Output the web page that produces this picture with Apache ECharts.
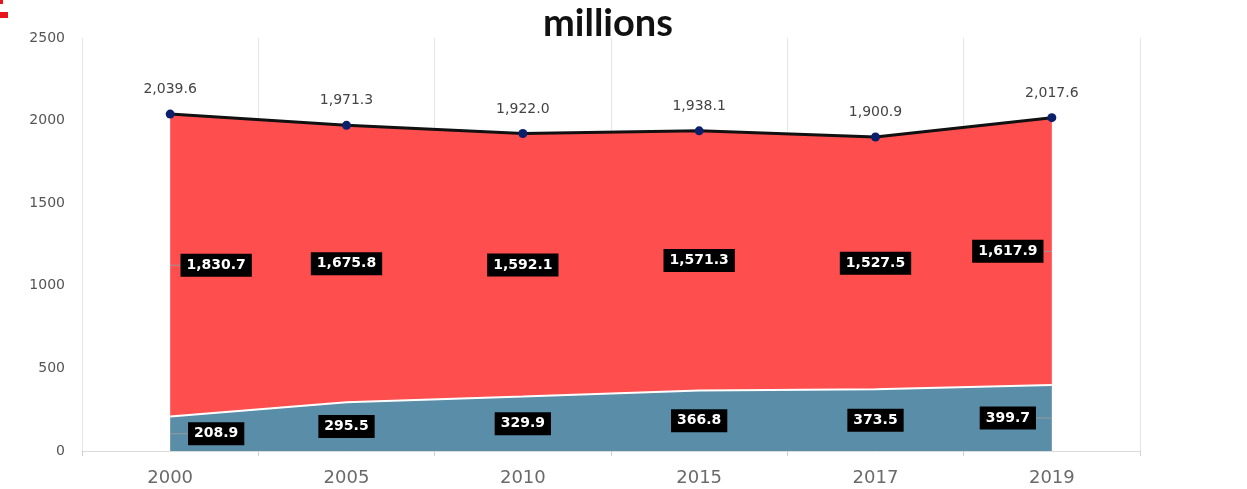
<!DOCTYPE html>
<html>
<head>
<meta charset="utf-8">
<script src="https://cdn.jsdelivr.net/npm/echarts@6/dist/echarts.min.js"></script>
<style>html,body{margin:0;padding:0;background:#fff;}#c{width:1247px;height:489px;}</style>
</head>
<body>
<div id="c"></div>
<script>
const categories = ['2000', '2005', '2010', '2015', '2017', '2019'];
const lowerValues = [208.9, 295.5, 329.9, 366.8, 373.5, 399.7];
const upperValues = [1830.7, 1675.8, 1592.1, 1571.3, 1527.5, 1617.9];
const totalValues = [2039.6, 1971.3, 1922.0, 1938.1, 1900.9, 2017.6];
const yTicks = { min: 0, max: 2500, interval: 500 };
const titleText = 'millions';

function fmt(v) {
  return v.toLocaleString('en-US', { minimumFractionDigits: 1, maximumFractionDigits: 1 });
}

const boxLabel = {
  show: true,
  position: 'inside',
  color: '#fff',
  fontFamily: 'DejaVu Sans',
  fontWeight: 'bold',
  fontSize: 14,
  backgroundColor: '#000',
  padding: [5, 6, 4, 6],
  opacity: 1
};

function edgeLayout(params) {
  if (params.dataIndex === 0) return { dx: 46 };
  if (params.dataIndex === categories.length - 1) return { dx: -44 };
  return {};
}

const chart = echarts.init(document.getElementById('c'), null, { renderer: 'canvas' });
chart.setOption({
  animation: false,
  backgroundColor: '#fff',
  title: {
    text: titleText,
    left: 538,
    top: 0,
    textStyle: { fontFamily: 'Lato', fontWeight: 'bold', fontSize: 38, color: '#111' }
  },
  graphic: [
    { type: 'rect', shape: { x: 0, y: 0, width: 3, height: 4 }, style: { fill: '#e8141c' } },
    { type: 'rect', shape: { x: 0, y: 12, width: 8, height: 6 }, style: { fill: '#e8141c' } }
  ],
  grid: { left: 82, right: 107, top: 38, bottom: 38 },
  xAxis: {
    type: 'category',
    data: categories,
    boundaryGap: true,
    axisLine: { show: true, lineStyle: { color: '#dcdcdc', width: 1 } },
    axisTick: { show: true, length: 5, lineStyle: { color: '#cfcfcf' } },
    axisLabel: { color: '#6a6a6a', fontFamily: 'DejaVu Sans', fontSize: 18, margin: 18 },
    splitLine: { show: true, lineStyle: { color: '#e6e6e6', width: 1 } }
  },
  yAxis: {
    type: 'value',
    min: yTicks.min, max: yTicks.max, interval: yTicks.interval,
    axisLine: { show: false },
    axisTick: { show: false },
    splitLine: { show: false },
    axisLabel: { color: '#555', fontFamily: 'DejaVu Sans', fontSize: 14, margin: 17, formatter: v => String(v) }
  },
  series: [
    {
      name: 'lower', type: 'line', stack: 'total', data: lowerValues,
      symbol: 'none', z: 3,
      lineStyle: { color: '#ffffff', width: 2 },
      areaStyle: { color: '#5a8ea8', opacity: 1 },
      emphasis: { disabled: true }
    },
    {
      name: 'upper', type: 'line', stack: 'total', data: upperValues,
      symbol: 'none', z: 2,
      lineStyle: { width: 0, opacity: 0 },
      areaStyle: { color: '#ff4848', opacity: 0.97 },
      emphasis: { disabled: true }
    },
    {
      name: 'total', type: 'line', data: totalValues,
      symbol: 'circle', symbolSize: 9, z: 5,
      lineStyle: { color: '#111', width: 3 },
      itemStyle: { color: '#0c1f6a' },
      label: {
        show: true, position: 'top', distance: 13,
        formatter: p => fmt(p.value),
        color: '#444', fontFamily: 'DejaVu Sans', fontSize: 14
      },
      emphasis: { disabled: true }
    },
    {
      name: 'lowerLabels', type: 'scatter', z: 6, symbolSize: 0,
      itemStyle: { opacity: 1 },
      data: categories.map((c, i) => [c, lowerValues[i] / 2]),
      label: Object.assign({}, boxLabel, { formatter: p => fmt(lowerValues[p.dataIndex]) }),
      labelLayout: edgeLayout,
      labelLine: { show: true, lineStyle: { color: '#999', width: 1 } },
      emphasis: { disabled: true }
    },
    {
      name: 'upperLabels', type: 'scatter', z: 6, symbolSize: 0,
      itemStyle: { opacity: 1 },
      data: categories.map((c, i) => [c, lowerValues[i] + upperValues[i] / 2]),
      label: Object.assign({}, boxLabel, { formatter: p => fmt(upperValues[p.dataIndex]) }),
      labelLayout: edgeLayout,
      labelLine: { show: true, lineStyle: { color: '#999', width: 1 } },
      emphasis: { disabled: true }
    }
  ]
});
</script>
</body>
</html>
